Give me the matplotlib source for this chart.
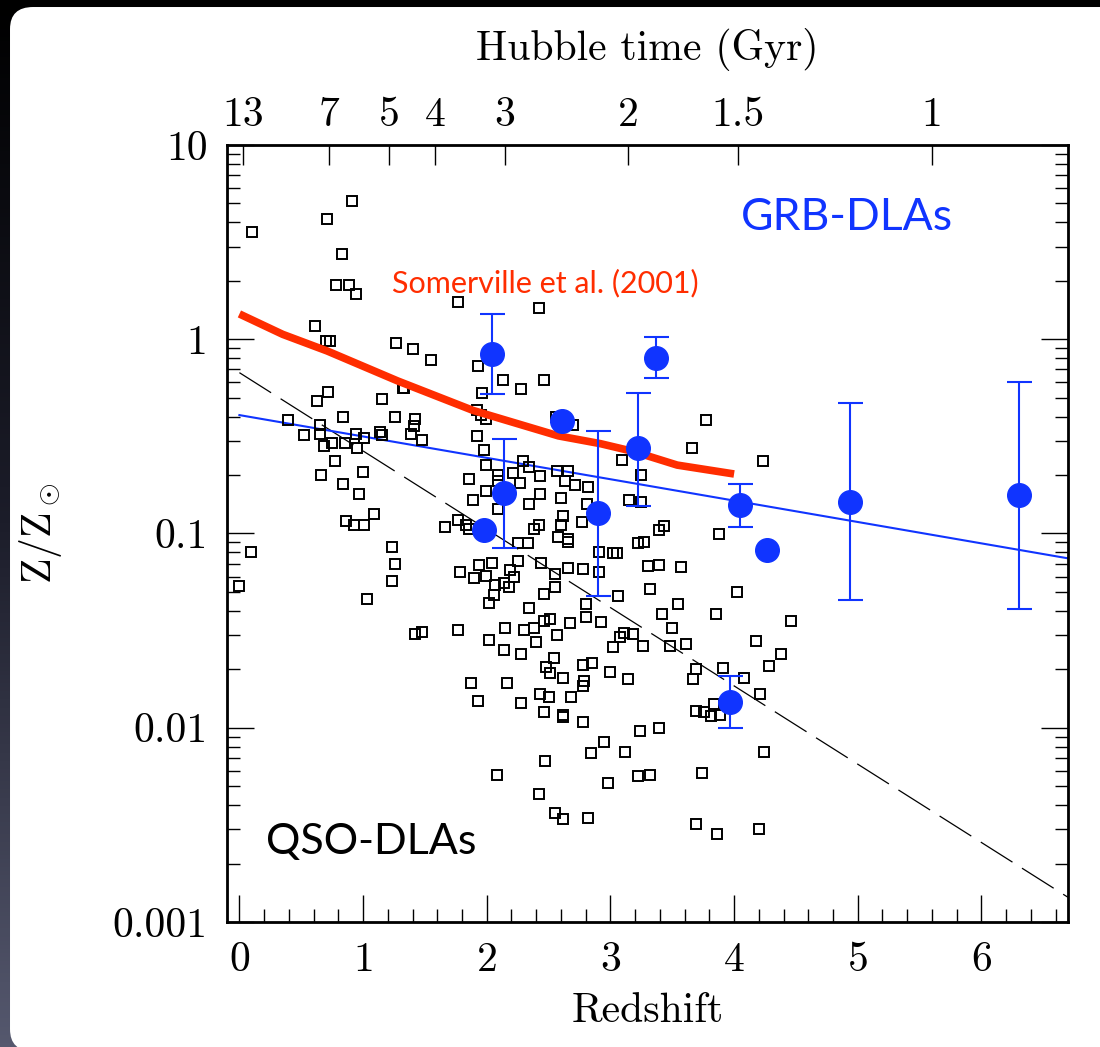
import numpy as np
import matplotlib.pyplot as plt
from matplotlib.patches import FancyBboxPatch
from matplotlib.colors import LinearSegmentedColormap
from matplotlib.ticker import FixedLocator, MultipleLocator, LogLocator, NullFormatter, NullLocator

plt.rcParams['font.family'] = 'cmr10'
plt.rcParams['mathtext.fontset'] = 'cm'
plt.rcParams['axes.formatter.use_mathtext'] = True

BLUE = '#1034ff'
RED = '#ff2d00'

#%% QSO-DLAs (open squares)
qso_z = [0.10, 0.91, 0.71, 0.83, 0.78, 0.89, 0.94, 1.77, 2.42, 0.61,
         0.70, 0.73, 1.27, 1.40, 1.55, 1.93, 2.13, 2.28, 2.46, 1.96,
         0.72, 0.63, 1.15, 1.33, 1.32, 0.84, 0.39, 1.26, 1.42, 1.41,
         1.92, 1.99, 1.95, 2.56, 2.70, 0.52, 0.65, 0.65, 0.68, 0.75,
         0.85, 0.94, 1.01, 0.95, 1.14, 1.15, 1.39, 1.48, 1.92, 1.98,
         0.77, 1.00, 0.66, 0.84, 0.97, 1.99, 2.29, 2.34, 2.43, 2.09,
         2.21, 2.27, 1.86, 1.99, 2.09, 2.57, 2.66, 2.63, 2.71, 2.82,
         3.09, 3.25, 2.43, 2.60, 1.89, 2.09, 2.34, 2.81, 3.15, 3.25,
         2.62, 2.77, 2.42, 2.60, 2.38, 1.09, 0.86, 0.93, 1.01, 1.77,
         1.66, 1.83, 1.86, 0.09, 0.00, 1.23, 1.26, 1.23, 1.03, 2.58,
         2.66, 2.66, 2.25, 2.33, 2.44, 1.78, 1.94, 2.04, 1.90, 1.99,
         2.07, 2.06, 2.14, 2.19, 2.25, 2.22, 2.18, 2.02, 2.55, 2.55,
         2.66, 2.78, 2.91, 2.91, 3.02, 3.05, 2.46, 2.34, 2.80, 2.80,
         2.92, 3.06, 2.46, 2.51, 2.67, 2.15, 2.30, 2.38, 2.57, 2.40,
         2.02, 2.14, 2.28, 3.02, 3.08, 3.11, 3.18, 3.26, 3.30, 3.32,
         3.22, 3.27, 1.42, 1.48, 1.77, 2.54, 2.48, 2.51, 2.62, 2.78,
         2.85, 2.79, 2.78, 3.00, 3.14, 1.87, 2.16, 1.93, 2.28, 2.43,
         2.50, 2.68, 2.46, 2.62, 2.62, 2.78, 3.24, 2.95, 2.84, 3.12,
         2.47, 2.08, 2.98, 3.22, 3.32, 2.42, 2.55, 2.62, 2.82, 3.43,
         3.39, 3.88, 3.39, 3.57, 4.02, 3.55, 3.42, 3.85, 4.46, 3.50,
         3.48, 3.61, 4.18, 4.38, 4.28, 3.69, 3.67, 3.91, 4.08, 4.21,
         3.69, 3.76, 3.81, 3.84, 3.89, 3.39, 4.24, 3.74, 3.69, 3.86,
         4.20, 3.77, 3.66, 4.23]
qso_Z = [3.55, 5.13, 4.17, 2.76, 1.91, 1.91, 1.71, 1.55, 1.45, 1.17,
         0.98, 0.98, 0.96, 0.891, 0.779, 0.726, 0.619, 0.553, 0.619, 0.527,
         0.537, 0.481, 0.492, 0.563, 0.563, 0.399, 0.383, 0.399, 0.387, 0.359,
         0.432, 0.390, 0.407, 0.396, 0.361, 0.323, 0.363, 0.325, 0.282, 0.291,
         0.291, 0.325, 0.310, 0.276, 0.332, 0.321, 0.324, 0.303, 0.318, 0.269,
         0.235, 0.207, 0.201, 0.179, 0.159, 0.224, 0.237, 0.219, 0.198, 0.201,
         0.205, 0.181, 0.191, 0.166, 0.187, 0.211, 0.211, 0.187, 0.178, 0.174,
         0.239, 0.201, 0.159, 0.152, 0.148, 0.133, 0.142, 0.142, 0.149, 0.146,
         0.123, 0.115, 0.111, 0.111, 0.106, 0.126, 0.116, 0.111, 0.111, 0.118,
         0.108, 0.111, 0.105, 0.080, 0.0535, 0.0855, 0.0697, 0.0571, 0.0459, 0.0963,
         0.0933, 0.0901, 0.0890, 0.0890, 0.0703, 0.0636, 0.0688, 0.0707, 0.0588, 0.0604,
         0.0543, 0.0482, 0.0554, 0.0649, 0.0722, 0.0599, 0.0528, 0.0437, 0.0619, 0.0532,
         0.0665, 0.0654, 0.0806, 0.0636, 0.0791, 0.0791, 0.0488, 0.0415, 0.0434, 0.0373,
         0.0352, 0.0478, 0.0356, 0.0362, 0.0347, 0.0327, 0.0318, 0.0325, 0.0300, 0.0277,
         0.0283, 0.0251, 0.0239, 0.0260, 0.0294, 0.0309, 0.0303, 0.0265, 0.0680, 0.0516,
         0.0890, 0.0907, 0.0304, 0.0311, 0.0318, 0.0228, 0.0206, 0.0191, 0.0181, 0.0210,
         0.0215, 0.0175, 0.0164, 0.0194, 0.0178, 0.0169, 0.0169, 0.0137, 0.0134, 0.0150,
         0.0144, 0.0144, 0.0120, 0.0116, 0.0114, 0.0107, 0.00959, 0.00848, 0.00744, 0.00753,
         0.00674, 0.00571, 0.00521, 0.00562, 0.00569, 0.00456, 0.00363, 0.00338, 0.00344, 0.109,
         0.104, 0.0994, 0.0688, 0.0672, 0.0502, 0.0435, 0.0387, 0.0387, 0.0353, 0.0327,
         0.0263, 0.0270, 0.0279, 0.0239, 0.0209, 0.0200, 0.0178, 0.0204, 0.0181, 0.0150,
         0.0122, 0.0120, 0.0115, 0.0133, 0.0116, 0.0100, 0.00747, 0.00583, 0.00321, 0.00283,
         0.00302, 0.384, 0.275, 0.235]

#%% GRB-DLAs with error bars
grb_z = [2.04, 2.14, 2.90, 3.22, 3.37, 4.05, 4.94, 6.30, 3.97]
grb_Z = [0.839, 0.161, 0.127, 0.275, 0.804, 0.140, 0.146, 0.157, 0.0136]
grb_hi = [1.354, 0.307, 0.337, 0.531, 1.023, 0.180, 0.471, 0.600, 0.0185]
grb_lo = [0.521, 0.0839, 0.0478, 0.139, 0.629, 0.1076, 0.0453, 0.0407, 0.00997]

# GRB-DLAs without error bars
grb_z_noerr = [2.61, 1.98, 4.27]
grb_Z_noerr = [0.381, 0.104, 0.0822]

#%% Curves
somerville_z = [0.0, 0.35, 0.71, 1.28, 1.89, 2.58, 2.92, 3.19, 3.54, 4.0]
somerville_Z = [1.35, 1.06, 0.87, 0.61, 0.43, 0.318, 0.29, 0.264, 0.225, 0.2025]

grb_fit_z = [0.0, 6.7]
grb_fit_Z = [0.407, 0.0745]

qso_fit_z = [0.0, 6.7]
qso_fit_Z = [0.673, 0.00134]

hubble_z = [0.03, 0.728, 1.21, 1.585, 2.148, 3.145, 4.032, 5.602]
hubble_labels = ['13', '7', '5', '4', '3', '2', '1.5', '1']

#%% Figure + slide background
fig = plt.figure(figsize=(11, 10.47), dpi=100)
fig.patch.set_facecolor('black')

bg = fig.add_axes([0, 0, 1, 1], zorder=-10)
bg.set_axis_off()
grad = np.linspace(0, 1, 256).reshape(-1, 1)
cmap = LinearSegmentedColormap.from_list('slide', ['#000000', '#1c1d2a', '#55586e'])
bg.imshow(grad, cmap=cmap, aspect='auto', extent=[0, 1, 0, 1], origin='upper')
bg.set_xlim(0, 1)
bg.set_ylim(0, 1)
panel = FancyBboxPatch((0.0091, -0.004), 1.2, 0.9973, boxstyle='round,pad=0,rounding_size=0.021',
                       transform=bg.transAxes, fc='white', ec='none', clip_on=False)
bg.add_patch(panel)

#%% Main axes
ax = fig.add_axes([0.2064, 0.1194, 0.7645, 0.7421])
ax.set_yscale('log')
ax.set_xlim(-0.1, 6.7)
ax.set_ylim(1e-3, 10)

ax.plot(qso_fit_z, qso_fit_Z, color='black', lw=0.9, dashes=(30, 9), zorder=2)
ax.plot(grb_fit_z, grb_fit_Z, color=BLUE, lw=1.5, zorder=2)
ax.plot(qso_z, qso_Z, 's', ms=7.6, mfc='none', mec='black', mew=1.4, zorder=3)
ax.plot(somerville_z, somerville_Z, color=RED, lw=5.5, solid_capstyle='butt', zorder=4)

yerr = [np.array(grb_Z) - np.array(grb_lo), np.array(grb_hi) - np.array(grb_Z)]
ax.errorbar(grb_z, grb_Z, yerr=yerr, fmt='o', ms=17, color=BLUE, ecolor=BLUE,
            elinewidth=1.5, capsize=9, capthick=1.5, zorder=5)
ax.plot(grb_z_noerr, grb_Z_noerr, 'o', ms=17, color=BLUE, zorder=5)

ax.text(4.91, 4.21, 'GRB-DLAs', color=BLUE, fontsize=32, family='Lato', ha='center', va='center')
ax.text(1.237, 1.95, 'Somerville et al. (2001)', color=RED, fontsize=22, family='Lato',
        ha='left', va='center')
ax.text(0.218, 0.00258, 'QSO-DLAs', color='black', fontsize=31, family='Lato', ha='left', va='center')

ax.yaxis.set_major_locator(FixedLocator([0.001, 0.01, 0.1, 1, 10]))
ax.set_yticklabels(['0.001', '0.01', '0.1', '1', '10'])
ax.yaxis.set_minor_locator(LogLocator(base=10, subs=np.arange(2, 10)))
ax.yaxis.set_minor_formatter(NullFormatter())
ax.xaxis.set_major_locator(MultipleLocator(1))
ax.xaxis.set_minor_locator(MultipleLocator(0.2))
ax.tick_params(which='both', direction='in', left=True, right=True, top=False, bottom=True, width=1.0)
ax.tick_params(which='major', length=19.5, labelsize=30, pad=14)
ax.tick_params(which='minor', length=9.5)
for s in ax.spines.values():
    s.set_linewidth(2)

ax.set_xlabel('Redshift', fontsize=30, labelpad=10)
ax.set_ylabel(r'$\mathrm{Z/Z_\odot}$', fontsize=30, labelpad=35)

#%% Top axis: Hubble time
ax2 = ax.twiny()
ax2.set_xlim(ax.get_xlim())
ax2.xaxis.set_major_locator(FixedLocator(hubble_z))
ax2.set_xticklabels(hubble_labels)
ax2.xaxis.set_minor_locator(NullLocator())
ax2.tick_params(direction='in', length=14.4, width=1.0, labelsize=30, pad=8)
ax2.set_xlabel('Hubble time (Gyr)', fontsize=30, labelpad=26)

fig.savefig('out.png', dpi=100, facecolor=fig.get_facecolor())
